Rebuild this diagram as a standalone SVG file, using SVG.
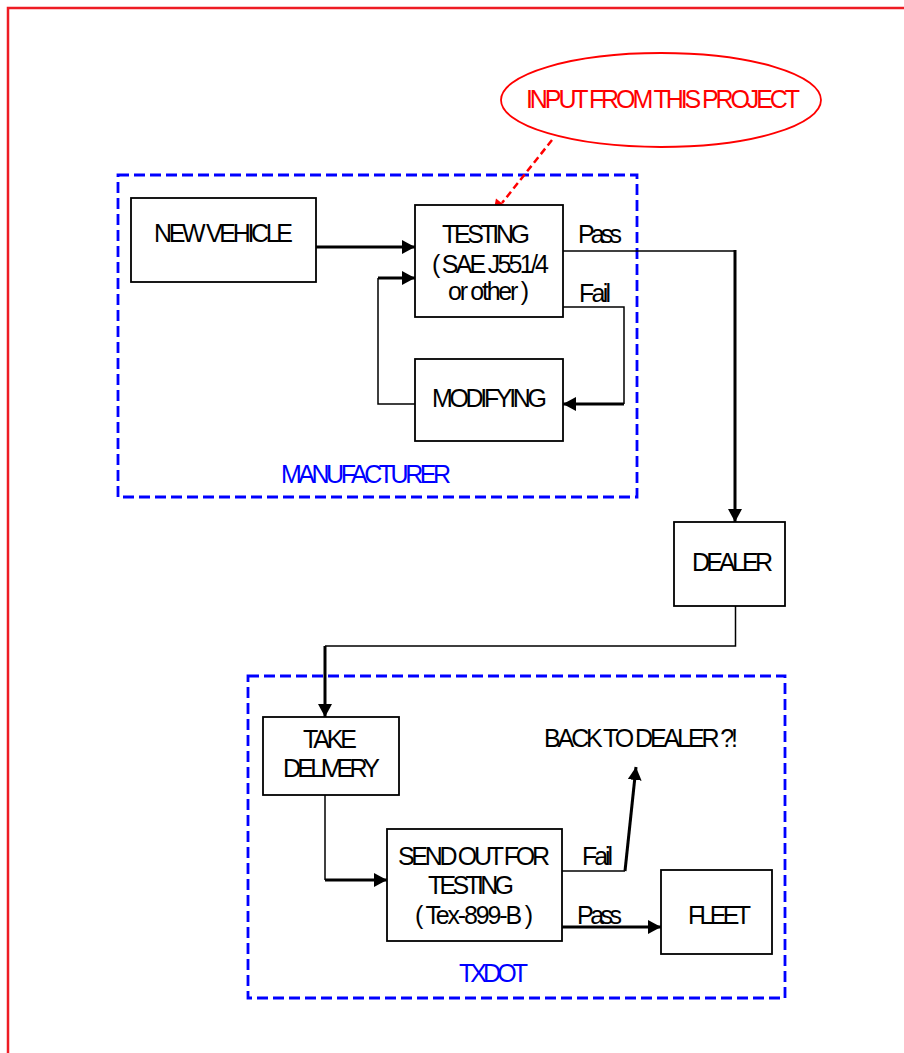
<svg xmlns="http://www.w3.org/2000/svg" width="904" height="1053" viewBox="0 0 904 1053">
<style>
text{font-family:"Liberation Sans",Arial,sans-serif;font-size:25px;fill:#000}
.red{fill:#ff0000}
.blue{fill:#0000ff}
.box{fill:#fff;stroke:#000;stroke-width:1.8}
.grp{fill:none;stroke:#0000ff;stroke-width:2.8;stroke-dasharray:11 5}
.thin{fill:none;stroke:#000;stroke-width:1.5}
.thick{fill:none;stroke:#000;stroke-width:3;marker-end:url(#ah)}
</style>
<defs>
<marker id="ah" markerUnits="userSpaceOnUse" markerWidth="14" markerHeight="14" refX="13" refY="7" orient="auto" viewBox="0 0 14 14">
<path d="M0,0 L13,7 L0,14 z" fill="#000"/>
</marker>
</defs>
<rect x="8" y="8" width="920" height="1070" fill="none" stroke="#ee1c24" stroke-width="2.5"/>

<g id="manufacturer">
<rect class="grp" x="118" y="175" width="519" height="322"/>
<text class="blue" x="281" y="483" textLength="170">MANUFACTURER</text>
</g>
<g id="txdot">
<rect class="grp" x="248" y="676" width="537" height="322"/>
<text class="blue" x="459" y="982" textLength="69">TXDOT</text>
</g>

<g id="input">
<ellipse cx="661" cy="100" rx="160" ry="47" fill="none" stroke="#ff0000" stroke-width="1.8"/>
<text class="red" x="526" y="108" textLength="274">INPUT FROM THIS PROJECT</text>
</g>

<g id="connectors">
<line class="thick" x1="316" y1="247" x2="415" y2="247"/>
<polyline class="thin" points="415,404 378,404 378,278"/>
<line class="thick" x1="378" y1="278" x2="415" y2="278"/>
<polyline class="thin" points="563,307 624,307 624,404"/>
<line class="thick" x1="624" y1="404" x2="563" y2="404"/>
<line class="thin" x1="563" y1="251" x2="735" y2="251"/>
<line class="thick" x1="735" y1="250" x2="735" y2="522"/>
<polyline class="thin" points="735.5,606 735.5,646 325,646"/>
<line class="thick" x1="325" y1="646" x2="325" y2="717"/>
<line class="thin" x1="325" y1="795" x2="325" y2="880"/>
<line class="thick" x1="325" y1="880" x2="387" y2="880"/>
<line class="thin" x1="562" y1="871" x2="625" y2="871"/>
<line class="thick" x1="625" y1="871" x2="636" y2="767"/>
<line class="thick" x1="562" y1="927" x2="661" y2="927"/>
<line x1="552" y1="140" x2="502" y2="203" stroke="#ff0000" stroke-width="2.5" stroke-dasharray="7 4"/>
<polygon points="493,214 507.5,207.8 496,198.5" fill="#ff0000"/>
<text x="578" y="243" textLength="44">Pass</text>
<text x="579" y="302" textLength="32">Fail</text>
<text x="582" y="865" textLength="31">Fail</text>
<text x="577" y="924" textLength="45">Pass</text>
<text x="544" y="747" textLength="194">BACK TO DEALER ?!</text>
</g>

<g id="new-vehicle">
<rect class="box" x="131" y="198" width="185" height="84"/>
<text x="154" y="242" textLength="139">NEW VEHICLE</text>
</g>
<g id="testing">
<rect class="box" x="415" y="205" width="148" height="112"/>
<text x="442" y="243" textLength="88">TESTING</text>
<text x="432" y="273" textLength="117">( SAE J551/4</text>
<text x="448" y="300" textLength="81">or other )</text>
</g>
<g id="modifying">
<rect class="box" x="415" y="359" width="148" height="82"/>
<text x="432" y="407" textLength="115">MODIFYING</text>
</g>
<g id="dealer">
<rect class="box" x="674" y="522" width="111" height="84"/>
<text x="692" y="571" textLength="81">DEALER</text>
</g>
<g id="take-delivery">
<rect class="box" x="263" y="717" width="136" height="78"/>
<text x="303" y="748" textLength="54">TAKE</text>
<text x="283" y="777" textLength="97">DELIVERY</text>
</g>
<g id="send-out">
<rect class="box" x="387" y="829" width="175" height="112"/>
<text x="398" y="865" textLength="152">SEND OUT FOR</text>
<text x="428" y="894" textLength="86">TESTING</text>
<text x="415" y="924" textLength="118">( Tex-899-B )</text>
</g>
<g id="fleet">
<rect class="box" x="661" y="870" width="111" height="84"/>
<text x="688" y="924" textLength="63">FLEET</text>
</g>
</svg>
